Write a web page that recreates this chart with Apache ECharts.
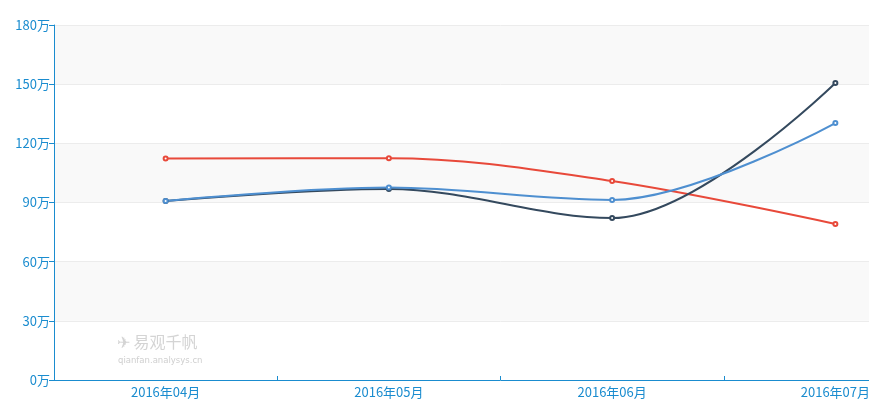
<!DOCTYPE html>
<html><head><meta charset="utf-8">
<script src="https://cdn.jsdelivr.net/npm/echarts@6/dist/echarts.min.js"></script>
<style>html,body{margin:0;padding:0;background:#fff;overflow:hidden;width:869px;height:408px}#c{width:947px;height:408px}</style>
</head><body><div id="c"></div>
<script>
var categories = ['2016年04月','2016年05月','2016年06月','2016年07月'];
var redValues = [112.3, 112.5, 100.9, 79.1];
var darkValues = [90.8, 96.8, 82.1, 150.6];
var blueValues = [90.8, 97.6, 91.3, 130.3];
var yMax = 180, yStep = 30;

var axisColor = '#1a8ccf';
function mk(name, data, color){
  return {name:name, type:'line', smooth:0.35, data:data.map(function(v){return v*10000;}),
    symbol:'emptyCircle', symbolSize:4, showSymbol:true,
    lineStyle:{width:2,color:color}, itemStyle:{color:color, borderWidth:1.5}};
}
var chart = echarts.init(document.getElementById('c'));
chart.setOption({
  animation:false,
  textStyle:{fontFamily:'"Noto Sans CJK SC", "Noto Sans", sans-serif'},
  grid:{left:54, right:0, top:25, bottom:28, containLabel:false},
  xAxis:{type:'category', data:categories, boundaryGap:true,
    axisLine:{lineStyle:{color:axisColor,width:1}},
    axisTick:{show:true, lineStyle:{color:axisColor}, length:4, inside:true},
    axisLabel:{color:axisColor, fontSize:13, margin:6},
    splitLine:{show:false}},
  yAxis:{type:'value', min:0, max:yMax*10000, interval:yStep*10000,
    axisLine:{show:true, lineStyle:{color:axisColor,width:1}},
    axisTick:{show:true, length:5, lineStyle:{color:axisColor}},
    axisLabel:{color:axisColor, fontSize:13, margin:4, formatter:function(v){return (v/10000)+'万';}},
    splitLine:{show:true, lineStyle:{color:'#ececec'}},
    splitArea:{show:true, areaStyle:{color:['#ffffff','#f9f9f9']}}},
  graphic:{elements:[
    {type:'text', x:117, y:334, z:100, style:{text:'✈ 易观千帆', fill:'#d4d4d4', fontSize:16, fontFamily:'Noto Sans CJK SC'}},
    {type:'text', x:118, y:356, z:100, style:{text:'qianfan.analysys.cn', fill:'#cfcfcf', fontSize:8.5, fontFamily:'DejaVu Sans'}}
  ]},
  series:[
    mk('A', redValues, '#e8493a'),
    mk('B', darkValues, '#34495e'),
    mk('C', blueValues, '#4e8fd0')
  ]
});
</script></body></html>
